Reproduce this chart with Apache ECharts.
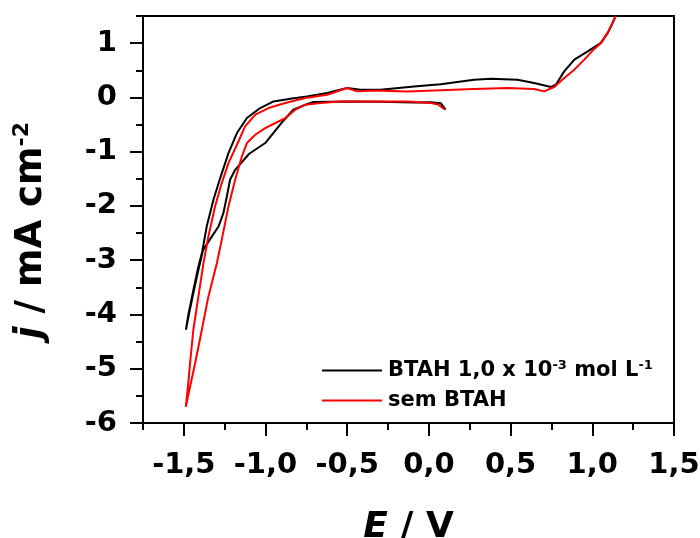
<!DOCTYPE html>
<html>
<head>
<meta charset="utf-8">
<script src="https://cdn.jsdelivr.net/npm/echarts@6/dist/echarts.min.js"></script>
<style>
  html, body { margin: 0; padding: 0; background: #fff; }
  #chart { width: 700px; height: 538px; }
</style>
</head>
<body>
<div id="chart"></div>
<script>
// Cyclic voltammograms: start near 0.1 V, cathodic sweep to -1.5 V, anodic return.
// Potential E (V) and current density j (mA cm^-2), in scan order.

const btahE = [0.102, 0.072, 0.010, -0.094, -0.297, -0.501, -0.706, -0.756, -0.830, -0.891,
  -1.002, -1.100, -1.186, -1.217, -1.237, -1.258, -1.288, -1.329, -1.382, -1.411,
  -1.442, -1.472, -1.487,
  -1.474, -1.444, -1.413, -1.388, -1.360, -1.319, -1.278, -1.227, -1.175, -1.114,
  -1.033, -0.951, -0.848, -0.746, -0.623, -0.501, -0.419, -0.297, -0.092, 0.072,
  0.276, 0.379, 0.542, 0.644, 0.747, 0.777, 0.828, 0.890, 0.972, 1.053,
  1.094, 1.125, 1.145];
const btahJ = [-0.227, -0.107, -0.089, -0.092, -0.079, -0.074, -0.085, -0.135, -0.227, -0.430,
  -0.841, -1.039, -1.334, -1.518, -1.827, -2.133, -2.380, -2.565, -2.810, -3.179,
  -3.609, -4.041, -4.281,
  -4.028, -3.585, -3.142, -2.847, -2.380, -1.887, -1.491, -1.026, -0.657, -0.380,
  -0.196, -0.074, -0.024, 0.018, 0.081, 0.173, 0.142, 0.142, 0.203, 0.244,
  0.327, 0.345, 0.327, 0.266, 0.192, 0.234, 0.480, 0.696, 0.849, 1.004,
  1.188, 1.373, 1.517];

const semE = [0.096, 0.053, 0.010, -0.133, -0.542, -0.664, -0.757, -0.818, -0.879, -0.940,
  -1.002, -1.063, -1.114, -1.145, -1.186, -1.227, -1.268, -1.298, -1.350, -1.390,
  -1.431, -1.462, -1.488,
  -1.474, -1.462, -1.442, -1.411, -1.380, -1.350, -1.309, -1.268, -1.227, -1.175,
  -1.125, -1.063, -0.982, -0.879, -0.757, -0.623, -0.501, -0.439, -0.337, -0.133,
  0.072, 0.276, 0.481, 0.644, 0.706, 0.767, 0.828, 0.890, 0.951, 1.012,
  1.053, 1.094, 1.145];
const semJ = [-0.218, -0.125, -0.103, -0.074, -0.074, -0.103, -0.135, -0.227, -0.380, -0.472,
  -0.565, -0.688, -0.841, -1.089, -1.518, -2.011, -2.625, -3.055, -3.672, -4.286,
  -4.900, -5.332, -5.701,
  -5.301, -4.900, -4.286, -3.672, -3.055, -2.565, -2.011, -1.579, -1.210, -0.873,
  -0.535, -0.319, -0.196, -0.103, -0.011, 0.050, 0.173, 0.111, 0.129, 0.111,
  0.133, 0.155, 0.173, 0.155, 0.111, 0.192, 0.358, 0.511, 0.696, 0.893,
  1.004, 1.188, 1.507];

const seriesNames = ['BTAH', 'sem BTAH'];
const legendLabels = ['BTAH 1,0 x 10{sup|-3} mol L{sup|-1}', 'sem BTAH'];

// Axis ticks
const xMajorTicks = [-1.5, -1.0, -0.5, 0.0, 0.5, 1.0, 1.5];
const xMinorTicks = [-1.75, -1.25, -0.75, -0.25, 0.25, 0.75, 1.25];
const yMajorTicks = [-6, -5, -4, -3, -2, -1, 0, 1];
const yMinorTicks = [-5.5, -4.5, -3.5, -2.5, -1.5, -0.5, 0.5, 1.5];

const FONT = '"DejaVu Sans", "Liberation Sans", Arial, sans-serif';

function pairs(xs, ys) { return xs.map((x, i) => [x, ys[i]]); }
function comma(v, digits) { return v.toFixed(digits).replace('.', ','); }

const chart = echarts.init(document.getElementById('chart'), null, { renderer: 'canvas' });

const tickLabelStyle = { color: '#000', fontFamily: FONT, fontWeight: 'bold', fontSize: 29 };

const option = {
  backgroundColor: '#fff',
  animation: false,
  grid: {
    left: 143, top: 16, right: 26, bottom: 115,
    containLabel: false, outerBoundsMode: 'none',
    show: true, borderColor: '#000', borderWidth: 2, backgroundColor: 'transparent'
  },
  legend: {
    orient: 'vertical',
    left: 317, top: 354,
    itemWidth: 60, itemHeight: 2, itemGap: 9,
    icon: 'rect',
    data: seriesNames,
    formatter: function (name) { return legendLabels[seriesNames.indexOf(name)]; },
    textStyle: {
      color: '#000', fontFamily: FONT, fontWeight: 'bold', fontSize: 21, padding: [0, 0, 0, 1],
      rich: {
        sup: { fontFamily: FONT, fontWeight: 'bold', fontSize: 13, padding: [0, 0, 10, 0], color: '#000' }
      }
    }
  },
  xAxis: [
    {
      type: 'value', min: -1.75, max: 1.5, interval: 0.25,
      axisLine: { show: true, onZero: false, lineStyle: { color: '#000', width: 2 } },
      axisTick: { show: true, customValues: xMajorTicks, length: 13, lineStyle: { color: '#000', width: 2 } },
      axisLabel: { customValues: xMajorTicks, margin: 28, formatter: v => comma(v, 1), ...tickLabelStyle },
      splitLine: { show: false },
      name: '{i|E} / V', nameLocation: 'middle', nameGap: 87,
      nameTextStyle: {
        color: '#000', fontFamily: FONT, fontWeight: 'bold', fontSize: 36,
        rich: { i: { fontFamily: FONT, fontWeight: 'bold', fontStyle: 'italic', fontSize: 36, color: '#000' } }
      }
    },
    {
      type: 'value', min: -1.75, max: 1.5, interval: 0.25, position: 'bottom', offset: 0,
      axisLine: { show: false, onZero: false },
      axisTick: { show: true, customValues: xMinorTicks, length: 7, lineStyle: { color: '#000', width: 2 } },
      axisLabel: { show: false },
      splitLine: { show: false }
    }
  ],
  yAxis: [
    {
      type: 'value', min: -6, max: 1.5, interval: 0.5,
      axisLine: { show: true, onZero: false, lineStyle: { color: '#000', width: 2 } },
      axisTick: { show: true, customValues: yMajorTicks, length: 13, lineStyle: { color: '#000', width: 2 } },
      axisLabel: { customValues: yMajorTicks, margin: 26, formatter: v => String(v), ...tickLabelStyle },
      splitLine: { show: false },
      name: '{i|j} / mA cm{sup|-2}', nameLocation: 'middle', nameRotate: 90, nameGap: 92,
      nameTextStyle: {
        color: '#000', fontFamily: FONT, fontWeight: 'bold', fontSize: 37,
        padding: [0, 22, 0, 0],
        rich: {
          i: { fontFamily: FONT, fontWeight: 'bold', fontStyle: 'italic', fontSize: 37, color: '#000' },
          sup: { fontFamily: FONT, fontWeight: 'bold', fontSize: 22, padding: [0, 0, 18, 0], color: '#000' }
        }
      }
    },
    {
      type: 'value', min: -6, max: 1.5, interval: 0.5, position: 'left', offset: 0,
      axisLine: { show: false, onZero: false },
      axisTick: { show: true, customValues: yMinorTicks, length: 7, lineStyle: { color: '#000', width: 2 } },
      axisLabel: { show: false },
      splitLine: { show: false }
    }
  ],
  series: [
    {
      name: seriesNames[0], type: 'line', data: pairs(btahE, btahJ),
      showSymbol: false, symbol: 'none', smooth: false, clip: true,
      lineStyle: { color: '#000', width: 2 }, itemStyle: { color: '#000' }
    },
    {
      name: seriesNames[1], type: 'line', data: pairs(semE, semJ),
      showSymbol: false, symbol: 'none', smooth: false, clip: true,
      lineStyle: { color: '#ff0000', width: 2 }, itemStyle: { color: '#ff0000' }
    }
  ]
};

chart.setOption(option);
</script>
</body>
</html>
